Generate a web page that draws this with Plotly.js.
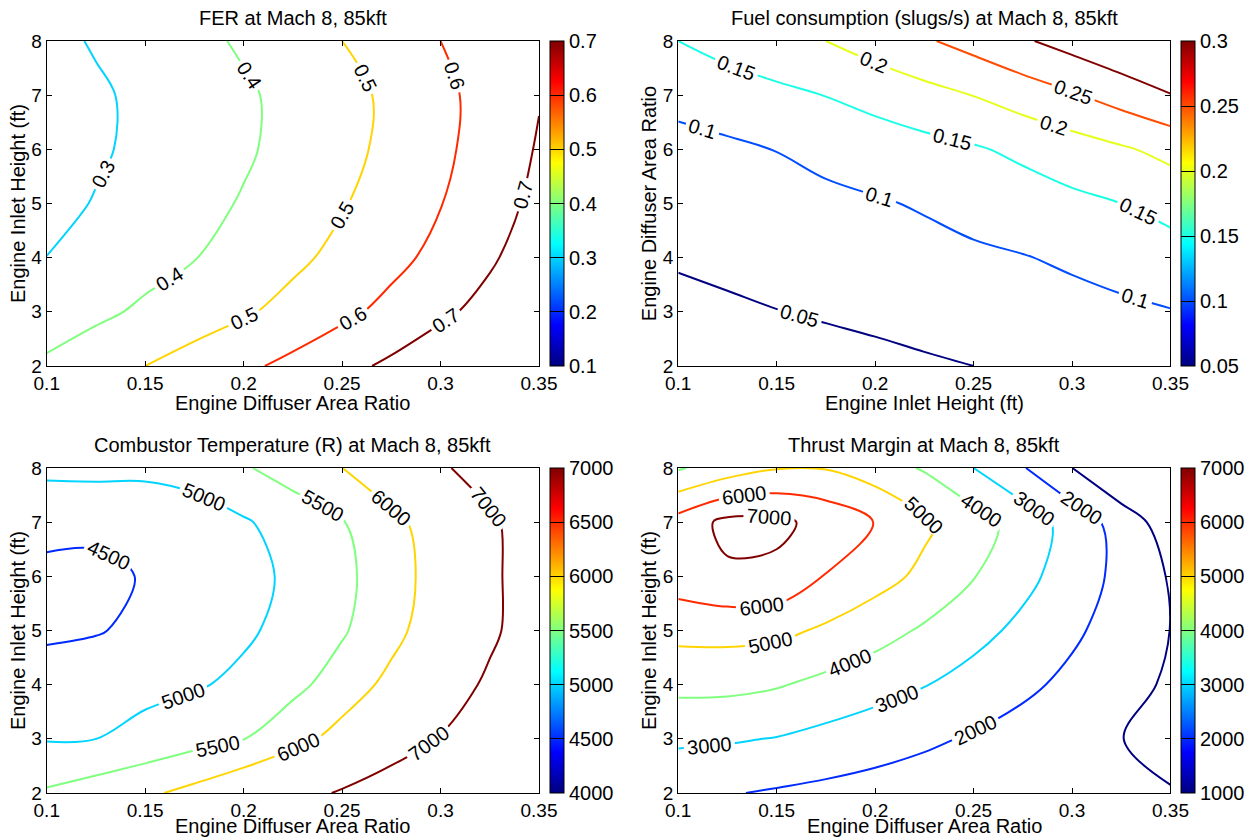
<!DOCTYPE html>
<html><head><meta charset="utf-8">
<script src="https://cdn.plot.ly/plotly-3.0.1.min.js"></script>
<style>html,body{margin:0;padding:0;background:#fff}#chart{width:1260px;height:840px}</style>
</head><body><div id="chart"></div>
<script>
// ---- grid coordinates ----
const gridX = [0.1, 0.125, 0.15, 0.175, 0.2, 0.225, 0.25, 0.275, 0.3, 0.325, 0.35];
const gridY = [2, 3, 4, 5, 6, 7, 8];

// ---- FER (rows: y = 2..8) ----
const ferZ = [
  [0.417,0.458,0.500,0.540,0.581,0.625,0.672,0.718,0.760,0.800,0.840],
  [0.345,0.380,0.416,0.452,0.488,0.531,0.578,0.628,0.683,0.730,0.775],
  [0.301,0.333,0.366,0.397,0.438,0.480,0.525,0.573,0.627,0.688,0.750],
  [0.272,0.305,0.339,0.372,0.407,0.449,0.493,0.544,0.597,0.659,0.724],
  [0.255,0.288,0.321,0.355,0.388,0.429,0.473,0.523,0.580,0.642,0.708],
  [0.253,0.287,0.320,0.353,0.387,0.426,0.470,0.519,0.577,0.636,0.695],
  [0.274,0.308,0.342,0.376,0.412,0.456,0.500,0.550,0.600,0.650,0.690]
];
// ---- Fuel consumption (slugs/s) ----
const fuelZ = [
  [0.012,0.018,0.024,0.031,0.037,0.044,0.050,0.057,0.064,0.071,0.078],
  [0.037,0.043,0.049,0.055,0.061,0.067,0.073,0.079,0.085,0.091,0.098],
  [0.055,0.061,0.067,0.073,0.080,0.086,0.092,0.098,0.107,0.118,0.129],
  [0.072,0.078,0.084,0.090,0.096,0.104,0.116,0.127,0.139,0.150,0.167],
  [0.082,0.091,0.101,0.112,0.123,0.134,0.145,0.160,0.177,0.194,0.214],
  [0.117,0.128,0.139,0.151,0.167,0.184,0.201,0.223,0.245,0.271,0.298],
  [0.150,0.167,0.183,0.200,0.222,0.244,0.268,0.294,0.319,0.344,0.369]
];
// ---- Combustor temperature (R) ----
const tempZ = [
  [5560,5740,5910,6143,6451,6759,7065,7400,7750,8050,8350],
  [4970,4998,5160,5323,5486,5816,6195,6615,7035,7450,7850],
  [4690,4776,4862,4948,5108,5374,5714,6143,6631,7120,7600],
  [4430,4470,4600,4762,4924,5153,5449,5837,6326,6870,7420],
  [4420,4445,4515,4703,4872,5075,5387,5758,6246,6862,7400],
  [4600,4555,4700,4800,4950,5203,5470,5837,6328,6890,7400],
  [5120,5150,5100,5170,5450,5716,5995,6454,6915,7300,7600]
];
// ---- Thrust margin ----
const thrustZ = [
  [2300,2060,1900,1760,1620,1480,1340,1200,1150,1100,1050],
  [3150,3100,2960,2697,2435,2170,1900,1605,1310,1015,720],
  [4270,4250,4080,3740,3391,3040,2626,2203,1767,1320,870],
  [5300,5330,5250,4846,4400,3867,3320,2762,2170,1578,990],
  [6500,6850,6800,5950,5370,4780,4040,3287,2523,1738,920],
  [6400,7250,7200,6700,5970,5190,4436,3574,2590,1590,450],
  [3900,4500,4950,4950,4500,3900,3000,2070,1010,-130,-1200]
];

// ---- contour levels ----
const ferLevels = [0.3, 0.4, 0.5, 0.6, 0.7];
const fuelLevels = [0.05, 0.1, 0.15, 0.2, 0.25, 0.3];
const tempLevels = [4500, 5000, 5500, 6000, 7000];
const thrustLevels = [1000, 2000, 3000, 4000, 5000, 6000, 7000];
const thrustUnlabeledLevels = [1000];

// ---- tick labels ----
const xTickVals = [0.1, 0.15, 0.2, 0.25, 0.3, 0.35];
const xTickText = ['0.1', '0.15', '0.2', '0.25', '0.3', '0.35'];
const yTickVals = [2, 3, 4, 5, 6, 7, 8];
const ferBarTicks = [0.1, 0.2, 0.3, 0.4, 0.5, 0.6, 0.7];
const ferBarText = ['0.1','0.2','0.3','0.4','0.5','0.6','0.7'];
const fuelBarTicks = [0.05, 0.1, 0.15, 0.2, 0.25, 0.3];
const fuelBarText = ['0.05','0.1','0.15','0.2','0.25','0.3'];
const tempBarTicks = [4000, 4500, 5000, 5500, 6000, 6500, 7000];
const tempBarText = ['4000','4500','5000','5500','6000','6500','7000'];
const thrustBarTicks = [1000, 2000, 3000, 4000, 5000, 6000, 7000];
const thrustBarText = ['1000','2000','3000','4000','5000','6000','7000'];

const panelTitles = ['FER at Mach 8, 85kft', 'Fuel consumption (slugs/s) at Mach 8, 85kft',
  'Combustor Temperature (R) at Mach 8, 85kft', 'Thrust Margin at Mach 8, 85kft'];
const xTitles = ['Engine Diffuser Area Ratio', 'Engine Inlet Height (ft)',
  'Engine Diffuser Area Ratio', 'Engine Diffuser Area Ratio'];
const yTitles = ['Engine Inlet Height (ft)', 'Engine Diffuser Area Ratio',
  'Engine Inlet Height (ft)', 'Engine Inlet Height (ft)'];

// ---------------------------------------------------------------
const FONT = 'Liberation Sans, Arial, Helvetica, sans-serif';
const W = 1260, H = 840;
const LABEL_DENSITY = 100;   // padding levels (outside data) -> denser contour labels
const BIG = 1e7;
function jet(t) {
  const c = v => Math.max(0, Math.min(1, v));
  const r = c(Math.min(4*t - 1.5, -4*t + 4.5));
  const g = c(Math.min(4*t - 0.5, -4*t + 3.5));
  const b = c(Math.min(4*t + 0.5, -4*t + 2.5));
  return 'rgb(' + Math.round(r*255) + ',' + Math.round(g*255) + ',' + Math.round(b*255) + ')';
}
const jetScale = [];
for (let i = 0; i <= 64; i++) jetScale.push([i/64, jet(i/64)]);

// pixel boxes of the four axes [left, right, top, bottom]
const boxes = [[47, 542, 41, 366], [682, 1177, 41, 366], [47, 542, 468, 793], [682, 1177, 468, 793]];
const xTitleGap = [37, 37, 33, 33];
const panels = [
  {z: ferZ, levels: ferLevels, bt: ferBarTicks, bx: ferBarText},
  {z: fuelZ, levels: fuelLevels, bt: fuelBarTicks, bx: fuelBarText},
  {z: tempZ, levels: tempLevels, bt: tempBarTicks, bx: tempBarText},
  {z: thrustZ, levels: thrustLevels, bt: thrustBarTicks, bx: thrustBarText, noLabel: thrustUnlabeledLevels}
];

const traces = [];
const layout = {
  width: W, height: H, margin: {l: 0, r: 0, t: 0, b: 0},
  paper_bgcolor: '#fff', plot_bgcolor: '#fff', showlegend: false,
  font: {family: FONT, size: 20, color: '#000'},
  annotations: []
};

panels.forEach((p, i) => {
  const n = i === 0 ? '' : String(i + 1);
  const xa = 'x' + n, ya = 'y' + n;
  const [l, r, t, b] = boxes[i];
  const cmin = p.bt[0], cmax = p.bt[p.bt.length - 1];
  p.levels.forEach(L => {
    const lab = !(p.noLabel && p.noLabel.includes(L));
    traces.push({
      type: 'contour', x: gridX, y: gridY, z: p.z, xaxis: xa, yaxis: ya,
      autocontour: false, showscale: false, hoverinfo: 'skip',
      contours: {coloring: 'none', start: L, end: L + BIG * (LABEL_DENSITY - 1), size: BIG,
        showlabels: lab, labelfont: {family: FONT, size: 20, color: '#000'}, labelformat: '~g'},
      line: {color: jet((L - cmin) / (cmax - cmin)), width: 2, smoothing: 1}
    });
  });
  traces.push({
    type: 'scatter', mode: 'markers', x: [null], y: [null], xaxis: xa, yaxis: ya,
    hoverinfo: 'skip', showlegend: false,
    marker: {color: [cmin], cmin: cmin, cmax: cmax, colorscale: jetScale, showscale: true,
      colorbar: {
        x: (r + 11) / W, xanchor: 'left', xpad: 0, ypad: 0,
        y: 1 - (t + b) / 2 / H, yanchor: 'middle',
        len: b - t, lenmode: 'pixels', thickness: 14, thicknessmode: 'pixels',
        outlinecolor: '#000', outlinewidth: 1, borderwidth: 0,
        ticks: 'inside', ticklen: 14, tickcolor: '#000', tickwidth: 1,
        tickvals: p.bt, ticktext: p.bx, tickfont: {family: FONT, size: 20, color: '#000'}
      }}
  });
  const axCommon = {
    showline: true, linecolor: '#000', linewidth: 1, mirror: 'ticks',
    ticks: 'inside', ticklen: 5, tickcolor: '#000', showgrid: false, zeroline: false,
    tickfont: {family: FONT, size: 19, color: '#000'}, fixedrange: true
  };
  layout['xaxis' + n] = Object.assign({}, axCommon, {
    domain: [l / W, r / W], anchor: ya, range: [0.1, 0.35],
    tickmode: 'array', tickvals: xTickVals, ticktext: xTickText
  });
  layout['yaxis' + n] = Object.assign({}, axCommon, {
    domain: [1 - b / H, 1 - t / H], anchor: xa, range: [2, 8],
    tickmode: 'array', tickvals: yTickVals,
    title: {text: yTitles[i], font: {family: FONT, size: 20, color: '#000'}, standoff: 0}
  });
  // panel title
  layout.annotations.push({
    text: panelTitles[i], xref: 'paper', yref: 'paper', showarrow: false,
    x: (l + r) / 2 / W, y: 1 - (t - 23) / H, xanchor: 'center', yanchor: 'middle',
    font: {family: FONT, size: 20, color: '#000'}
  });
  // x-axis title (placed tight under the tick labels, as in the reference)
  layout.annotations.push({
    text: xTitles[i], xref: 'paper', yref: 'paper', showarrow: false,
    x: (l + r) / 2 / W, y: 1 - (b + xTitleGap[i]) / H, xanchor: 'center', yanchor: 'middle',
    font: {family: FONT, size: 20, color: '#000'}
  });
});

Plotly.newPlot('chart', traces, layout, {staticPlot: true, displayModeBar: false});
</script>
</body></html>
